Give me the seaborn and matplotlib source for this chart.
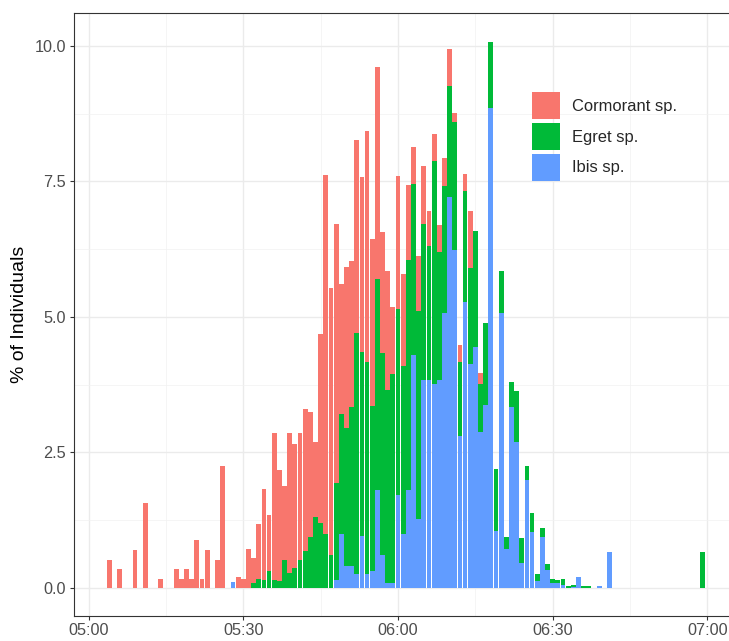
import numpy as np
import pandas as pd
import matplotlib
matplotlib.use("Agg")
import matplotlib.pyplot as plt
from matplotlib.patches import Patch
from matplotlib.ticker import FixedLocator
import seaborn as sns

# ---------------- data (percent of individuals per minute) ----------------
species = ["Cormorant sp.", "Egret sp.", "Ibis sp."]
colors = ["#F8766D", "#00BA38", "#619CFF"]

times = ["05:04", "05:06", "05:09", "05:11", "05:14", "05:17", "05:18", "05:19",
         "05:20", "05:21", "05:22", "05:23", "05:25", "05:26", "05:28", "05:29",
         "05:30", "05:31", "05:32", "05:33", "05:34", "05:35", "05:36", "05:37",
         "05:38", "05:39", "05:40", "05:41", "05:42", "05:43", "05:44", "05:45",
         "05:46", "05:47", "05:48", "05:49", "05:50", "05:51", "05:52", "05:53",
         "05:54", "05:55", "05:56", "05:57", "05:58", "05:59", "06:00", "06:01",
         "06:02", "06:03", "06:04", "06:05", "06:06", "06:07", "06:08", "06:09",
         "06:10", "06:11", "06:12", "06:13", "06:14", "06:15", "06:16", "06:17",
         "06:18", "06:19", "06:20", "06:21", "06:22", "06:23", "06:24", "06:25",
         "06:26", "06:27", "06:28", "06:29", "06:30", "06:31", "06:32", "06:33",
         "06:34", "06:35", "06:36", "06:37", "06:39", "06:41", "06:59"]

cormorant = [0.51, 0.34, 0.70, 1.56, 0.17, 0.34, 0.17, 0.34,
             0.17, 0.89, 0.17, 0.70, 0.51, 2.25, 0.00, 0.19,
             0.17, 0.71, 0.47, 1.02, 1.68, 1.04, 2.72, 2.06,
             1.37, 2.59, 2.29, 2.35, 2.62, 2.31, 1.38, 3.48,
             6.62, 4.93, 4.78, 2.40, 2.98, 2.69, 3.57, 3.23,
             4.26, 3.08, 3.92, 2.23, 2.19, 1.24, 2.46, 1.70,
             1.39, 0.69, 1.02, 1.06, 0.65, 0.50, 0.49, 0.53,
             0.69, 0.16, 0.33, 0.32, 1.05, 0.00, 0.20, 0.00,
             0.00, 0.00, 0.00, 0.00, 0.00, 0.00, 0.00, 0.00,
             0.00, 0.00, 0.00, 0.00, 0.00, 0.00, 0.00, 0.00,
             0.00, 0.00, 0.00, 0.00, 0.00, 0.00, 0.00]

egret = [0.00, 0.00, 0.00, 0.00, 0.00, 0.00, 0.00, 0.00,
         0.00, 0.00, 0.00, 0.00, 0.00, 0.00, 0.00, 0.00,
         0.00, 0.00, 0.08, 0.16, 0.14, 0.31, 0.14, 0.12,
         0.51, 0.27, 0.36, 0.51, 0.68, 0.94, 1.31, 1.20,
         1.00, 0.60, 1.80, 2.20, 2.55, 2.93, 4.45, 3.40,
         3.92, 3.05, 3.90, 3.73, 3.56, 3.86, 3.43, 3.10,
         4.25, 3.16, 3.85, 2.89, 2.47, 4.12, 2.37, 2.33,
         2.04, 2.37, 1.35, 2.04, 1.77, 2.14, 0.88, 1.51,
         1.22, 1.15, 0.76, 0.22, 0.46, 0.94, 0.46, 0.26,
         0.35, 0.12, 0.17, 0.11, 0.08, 0.07, 0.11, 0.03,
         0.03, 0.00, 0.03, 0.04, 0.00, 0.00, 0.66]

ibis = [0.00, 0.00, 0.00, 0.00, 0.00, 0.00, 0.00, 0.00,
        0.00, 0.00, 0.00, 0.00, 0.00, 0.00, 0.11, 0.00,
        0.00, 0.00, 0.00, 0.00, 0.00, 0.00, 0.00, 0.00,
        0.00, 0.00, 0.00, 0.00, 0.00, 0.00, 0.00, 0.00,
        0.00, 0.00, 0.14, 1.00, 0.40, 0.41, 0.25, 0.95,
        0.25, 0.30, 1.80, 0.60, 0.09, 0.08, 1.72, 1.00,
        1.80, 4.29, 1.26, 3.83, 3.83, 3.76, 3.83, 5.08,
        7.22, 6.23, 2.81, 5.28, 4.13, 4.45, 2.88, 3.37,
        8.86, 1.05, 5.08, 0.72, 3.34, 2.69, 0.45, 1.99,
        1.03, 0.13, 0.94, 0.33, 0.08, 0.08, 0.05, 0.00,
        0.02, 0.19, 0.00, 0.00, 0.03, 0.66, 0.00]

x_tick_labels = ["05:00", "05:30", "06:00", "06:30", "07:00"]
y_tick_labels = ["0.0", "2.5", "5.0", "7.5", "10.0"]

# ---------------- build long table ----------------
def to_minutes(t):
    h, m = t.split(":")
    return (int(h) - 5) * 60 + int(m)

rows = []
for sp, vals in zip(species, [cormorant, egret, ibis]):
    for t, v in zip(times, vals):
        rows.append({"minute": to_minutes(t), "species": sp, "pct": v})
df = pd.DataFrame(rows)

# ---------------- style ----------------
sns.set_theme(style="white")
plt.rcParams["font.family"] = ["Liberation Sans", "DejaVu Sans"]

W, H = 729, 641
fig = plt.figure(figsize=(W / 100, H / 100), dpi=100)
ax = fig.add_axes([74 / W, 25 / H, 660 / W, 603 / H])

sns.histplot(data=df, x="minute", weights="pct", hue="species",
             hue_order=species, palette=colors, multiple="stack",
             discrete=True, shrink=0.93, linewidth=0, edgecolor="none",
             alpha=1, legend=False, ax=ax)

ax.set_xlim(-2.83, 125.15)
ax.set_ylim(-0.522, 10.61)

xt = [to_minutes(t) for t in x_tick_labels]
ax.xaxis.set_major_locator(FixedLocator(xt))
ax.set_xticklabels(x_tick_labels)
ax.xaxis.set_minor_locator(FixedLocator([15, 45, 75, 105]))
yt = [float(s) for s in y_tick_labels]
ax.yaxis.set_major_locator(FixedLocator(yt))
ax.set_yticklabels(y_tick_labels)
ax.yaxis.set_minor_locator(FixedLocator([1.25, 3.75, 6.25, 8.75]))

ax.set_axisbelow(True)
ax.grid(which="major", color="#EBEBEB", linewidth=1.0)
ax.grid(which="minor", color="#F2F2F2", linewidth=0.5)

for s in ax.spines.values():
    s.set_visible(True)
    s.set_color("#333333")
    s.set_linewidth(0.8)

ax.tick_params(axis="both", which="major", length=2.6, width=0.8,
               color="#333333", labelcolor="#4D4D4D", labelsize=11.7,
               bottom=True, left=True)
ax.tick_params(axis="x", which="major", pad=2.5)
ax.tick_params(axis="y", which="major", pad=3)
ax.tick_params(which="minor", length=0)

ax.set_xlabel("")
ax.set_ylabel("% of Individuals", fontsize=14, color="black", labelpad=5)

handles = [Patch(facecolor=c, edgecolor="none") for c in colors]
ax.legend(handles, species, loc="upper left",
          bbox_to_anchor=(532 / W, 1 - 92 / H), bbox_transform=fig.transFigure,
          frameon=False, fontsize=11.9, handlelength=1.69, handleheight=2.14,
          handletextpad=0.71, labelspacing=0.23, borderpad=0, borderaxespad=0)

fig.savefig("out.png", dpi=100)
